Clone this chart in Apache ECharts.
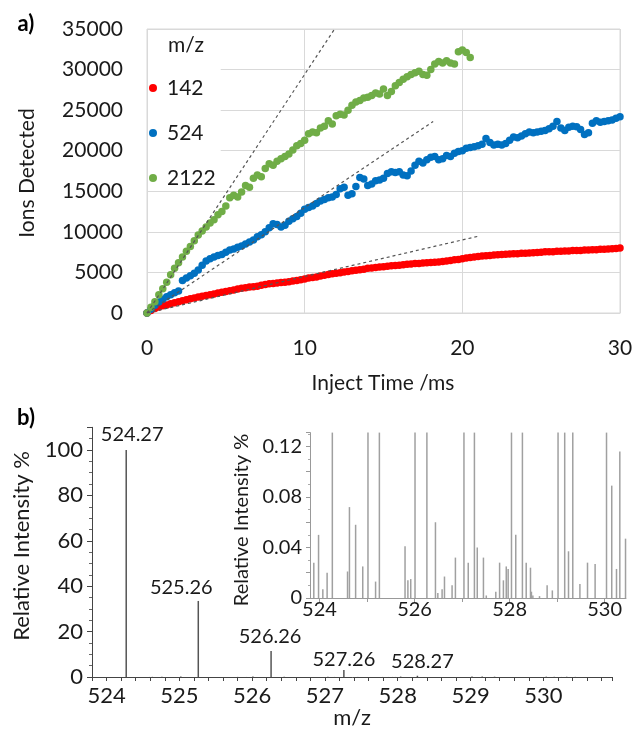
<!DOCTYPE html>
<html><head><meta charset="utf-8">
<script src="https://cdn.jsdelivr.net/npm/echarts@6/dist/echarts.min.js"></script>
<style>html,body{margin:0;padding:0;background:#fff}#c{width:636px;height:740px}</style>
</head><body><div id="c"></div>
<script>
// ---------- Panel a data ----------
const injectTimeMs = [
  0,0.25,0.5,0.75, 1,1.25,1.5,1.75, 2,2.25,2.5,2.75, 3,3.25,3.5,3.75,
  4,4.25,4.5,4.75, 5,5.25,5.5,5.75, 6,6.25,6.5,6.75, 7,7.25,7.5,7.75,
  8,8.25,8.5,8.75, 9,9.25,9.5,9.75, 10,10.25,10.5,10.75, 11,11.25,11.5,11.75,
  12,12.25,12.5,12.75, 13,13.25,13.5,13.75, 14,14.25,14.5,14.75, 15,15.25,15.5,15.75,
  16,16.25,16.5,16.75, 17,17.25,17.5,17.75, 18,18.25,18.5,18.75, 19,19.25,19.5,19.75,
  20,20.25,20.5,20.75, 21,21.25,21.5,21.75, 22,22.25,22.5,22.75, 23,23.25,23.5,23.75,
  24,24.25,24.5,24.75, 25,25.25,25.5,25.75, 26,26.25,26.5,26.75, 27,27.25,27.5,27.75,
  28,28.25,28.5,28.75, 29,29.25,29.5,29.75, 30
];
const ions142 = [
  0,300,550,750, 900,1000,1150,1260, 1400,1500,1640,1750, 1850,1960,2050,2150,
  2250,2340,2450,2560, 2650,2750,2840,2950, 3050,3100,3190,3250, 3300,3410,3500,3590,
  3650,3700,3760,3800, 3850,3950,4010,4100, 4200,4300,4390,4450, 4550,4660,4750,4840,
  4900,4960,5050,5100, 5200,5260,5340,5400, 5500,5540,5600,5660, 5700,5750,5810,5850,
  5900,5950,6000,6050, 6100,6110,6150,6200, 6210,6250,6300,6350, 6400,6460,6550,6600,
  6700,6790,6850,6900, 6950,7010,7050,7100, 7150,7190,7200,7250, 7260,7300,7310,7350,
  7350,7400,7410,7450, 7500,7540,7550,7560, 7600,7610,7650,7650, 7700,7710,7700,7750,
  7760,7800,7800,7850, 7860,7900,7910,7950, 8000
];
const ions524 = [
  0,450,950,1350, 1700,2000,2250,2500, 2700,4000,4300,4600, 4900,5300,5900,6400,
  6700,6900,7100,7200, 7500,7750,7900,8100, 8250,8500,8750,9000, 9400,9650,10000,10500,
  11000,10900,10600,10800, 11300,11600,11900,12300, 12800,13000,13200,13500, 13800,14000,14200,14300,
  14600,15300,15500,14500, 14700,15600,16700,16500, 15700,15900,16300,16400, 16600,17200,17400,17300,
  17400,17000,16900,17500, 18200,18700,18500,18900, 19200,19300,18900,19000, 19400,19300,19700,19900,
  20000,20300,20400,20500, 20600,20800,21500,21000, 20700,20800,20700,20900, 21300,21700,21600,21800,
  22100,22300,22200,22300, 22400,22500,22700,23000, 23600,22800,22500,22900, 23000,22950,22600,22000,
  22200,23400,23700,23500, 23600,23700,23800,24000, 24200
];
const ions2122 = [
  0,700,1400,2250, 3000,3800,4700,5500, 6200,6900,7600,8200, 8900,9600,10100,10600,
  11100,11500,12100,12500, 13200,14200,14500,14300, 14900,15700,15500,16600, 17000,16800,17800,18400,
  18200,18700,19000,19300, 19600,20100,20600,20900, 21300,22100,22300,22200, 22800,23000,23700,23300,
  24300,24500,24400,25000, 25600,26000,26200,26500, 26600,26800,27100,27000, 27600,26800,27300,28000,
  28400,28800,29100,29400, 29600,29800,29400,29300, 30000,30700,31000,30800, 31100,30800,30700,32200,
  32400,32100,31500
];
const trend142 = [[0,0],[21.1,9500]];
const trend524 = [[0,0],[18.15,23600]];
const trend2122 = [[0,0],[11.9,35000]];
const seriesNamesA = ['142','524','2122'];

// ---------- Panel b data ----------
const spectrumMz = [
  523.88,523.98,524.07,524.16,524.27,524.59,524.63,524.76,524.91,525.02,525.18,525.26,
  525.80,525.86,525.92,526.01,526.26,526.44,526.49,526.58,526.63,526.79,526.86,
  527.04,527.13,527.26,527.32,527.45,527.51,527.71,527.79,527.87,527.93,527.97,
  528.04,528.13,528.27,528.35,528.44,528.46,528.49,528.63,528.79,528.90,
  529.02,529.16,529.24,529.33,529.48,529.64,529.80,530.04,530.15,530.25,530.32,530.44
];
const spectrumIntensity = [
  0.028,0.050,0.007,0.020,100,0.021,0.072,0.058,0.025,0.21,0.013,33.5,
  0.041,0.014,0.015,0.18,11.5,0.060,0.004,0.007,0.017,0.010,0.032,
  0.16,0.028,3.1,0.040,0.032,0.002,0.005,0.028,0.014,0.025,0.023,
  0.19,0.050,0.55,0.028,0.024,0.005,0.002,0.0015,0.010,0.006,
  0.22,0.17,0.037,0.14,0.011,0.028,0.027,0.15,0.089,0.023,0.116,0.047
];
const labelledPeaks = ['524.27','525.26','526.26','527.26','528.27'];
const mainMzTicks = [524,525,526,527,528,529,530];
const mainIntensityTicks = [0,20,40,60,80,100];
const insetMzTicks = [524,526,528,530];
const insetMzTickMarks = [524,525,526,527,528,529,530];
const insetIntensityTicks = [0,0.04,0.08,0.12];

// ---------- build ----------
const FONT = 'Lato';
const TXT = '#1a1a1a';
const pts = (ys) => ys.map((v, i) => [injectTimeMs[i], v]);
const spectrum = spectrumMz.map((m, i) => [m, spectrumIntensity[i]]);
const labelOffsets = [[6,0],[-17,2],[-1,1],[0,5],[5,1]];
const peakLabelData = labelledPeaks.map((s, i) => {
  const m = parseFloat(s);
  const idx = spectrumMz.indexOf(m);
  return { value: [m, spectrumIntensity[idx]], name: s, label: { offset: labelOffsets[i] } };
});

const gridBorder = '#d9d9d9';
const chart = echarts.init(document.getElementById('c'), null, { renderer: 'canvas' });
chart.setOption({
  animation: false,
  textStyle: { fontFamily: FONT },
  grid: [
    { left: 147, right: 16, top: 29, height: 284, show: true, borderColor: gridBorder, borderWidth: 1, backgroundColor: 'transparent' },
    { left: 92, right: 23.5, top: 427.3, bottom: 63 },
    { left: 310, right: 10, top: 432.6, bottom: 142 }
  ],
  xAxis: [
    { gridIndex: 0, type: 'value', min: 0, max: 30, interval: 10,
      axisLine: { show: true, lineStyle: { color: gridBorder } }, axisTick: { show: false },
      splitLine: { show: true, lineStyle: { color: gridBorder, width: 1 } },
      axisLabel: { fontSize: 21, color: TXT, margin: 25, fontFamily: FONT } },
    { gridIndex: 1, type: 'value', min: 523.8, max: 530.95, interval: 0.2,
      axisLine: { show: true, onZero: false, lineStyle: { color: '#444', width: 1 } },
      axisTick: { show: true, length: 4, lineStyle: { color: '#444' } },
      splitLine: { show: false },
      axisLabel: { customValues: mainMzTicks, fontSize: 22, color: TXT, margin: 8, fontFamily: FONT } },
    { gridIndex: 2, type: 'value', min: 523.8, max: 530.45,
      axisLine: { show: true, onZero: false, lineStyle: { color: '#999', width: 1 } },
      axisTick: { show: true, customValues: insetMzTickMarks, length: 4, lineStyle: { color: '#999' } },
      splitLine: { show: false },
      axisLabel: { customValues: insetMzTicks, fontSize: 20, color: TXT, margin: 2, fontFamily: FONT } }
  ],
  yAxis: [
    { gridIndex: 0, type: 'value', min: 0, max: 35000, interval: 5000,
      axisLine: { show: false }, axisTick: { show: false },
      splitLine: { show: true, lineStyle: { color: gridBorder, width: 1 } },
      axisLabel: { fontSize: 21, color: TXT, margin: 24, fontFamily: FONT, formatter: v => String(v) } },
    { gridIndex: 1, type: 'value', min: 0, max: 110, interval: 20,
      axisLine: { show: true, lineStyle: { color: '#444', width: 1 } },
      axisTick: { show: true, length: 5, lineStyle: { color: '#444' } },
      minorTick: { show: true, splitNumber: 4, length: 3, lineStyle: { color: '#666' } },
      splitLine: { show: false },
      axisLabel: { customValues: mainIntensityTicks, fontSize: 22, color: TXT, margin: 9, fontFamily: FONT } },
    { gridIndex: 2, type: 'value', min: 0, max: 0.131, interval: 0.02,
      axisLine: { show: true, lineStyle: { color: '#999', width: 1 } },
      axisTick: { show: true, length: 4, lineStyle: { color: '#999' } },
      minorTick: { show: true, splitNumber: 2, length: 2, lineStyle: { color: '#aaa' } },
      splitLine: { show: false },
      axisLabel: { customValues: insetIntensityTicks, fontSize: 20, color: TXT, margin: 8, fontFamily: FONT } }
  ],
  legend: {
    data: seriesNamesA, orient: 'vertical', left: 148, top: 30,
    padding: [46, 5, 0, 1], itemGap: 21, itemWidth: 18, itemHeight: 8, icon: 'circle',
    backgroundColor: '#fff', selectedMode: false,
    textStyle: { fontSize: 21, color: TXT, lineHeight: 24, fontFamily: FONT }
  },
  graphic: [
    { type: 'text', x: 26, y: 24, z: 100, style: { text: 'a)', fontSize: 22, fontWeight: 'bold', fontFamily: FONT, fill: '#000', align: 'center', verticalAlign: 'middle' } },
    { type: 'text', x: 26, y: 418, z: 100, style: { text: 'b)', fontSize: 22, fontWeight: 'bold', fontFamily: FONT, fill: '#000', align: 'center', verticalAlign: 'middle' } },
    { type: 'text', x: 27, y: 173, rotation: Math.PI / 2, z: 100, style: { text: 'Ions Detected', fontSize: 21, fontFamily: FONT, fill: TXT, align: 'center', verticalAlign: 'middle' } },
    { type: 'text', x: 383, y: 383, z: 100, style: { text: 'Inject Time /ms', fontSize: 21, fontFamily: FONT, fill: TXT, align: 'center', verticalAlign: 'middle' } },
    { type: 'text', x: 186, y: 45, z: 100, style: { text: 'm/z', fontSize: 21, fontFamily: FONT, fill: TXT, align: 'center', verticalAlign: 'middle' } },
    { type: 'text', x: 22, y: 546, rotation: Math.PI / 2, z: 100, style: { text: 'Relative Intensity %', fontSize: 22, fontFamily: FONT, fill: TXT, align: 'center', verticalAlign: 'middle' } },
    { type: 'text', x: 242, y: 520, rotation: Math.PI / 2, z: 100, style: { text: 'Relative Intensity %', fontSize: 20, fontFamily: FONT, fill: TXT, align: 'center', verticalAlign: 'middle' } },
    { type: 'text', x: 352, y: 718, z: 100, style: { text: 'm/z', fontSize: 22, fontFamily: FONT, fill: TXT, align: 'center', verticalAlign: 'middle' } }
  ],
  series: [
    { name: '142', type: 'scatter', xAxisIndex: 0, yAxisIndex: 0, data: pts(ions142), symbolSize: 7.5, itemStyle: { color: '#ff0000', opacity: 1 } },
    { name: '524', type: 'scatter', xAxisIndex: 0, yAxisIndex: 0, data: pts(ions524), symbolSize: 7.5, itemStyle: { color: '#0070c0', opacity: 1 } },
    { name: '2122', type: 'scatter', xAxisIndex: 0, yAxisIndex: 0, data: pts(ions2122), symbolSize: 7.5, itemStyle: { color: '#70ad47', opacity: 1 } },
    ...[trend142, trend524, trend2122].map(d => ({
      type: 'line', xAxisIndex: 0, yAxisIndex: 0, data: d, symbol: 'none', z: 5, silent: true,
      lineStyle: { color: '#555', width: 1.2, type: [3, 3] }
    })),
    { type: 'bar', xAxisIndex: 1, yAxisIndex: 1, data: spectrum, barWidth: 1.5, itemStyle: { color: '#555' }, silent: true },
    { type: 'scatter', xAxisIndex: 1, yAxisIndex: 1, data: peakLabelData, symbolSize: 0, silent: true,
      itemStyle: { opacity: 1 },
      label: { show: true, position: 'top', distance: 5, formatter: p => p.name, fontSize: 20, color: TXT, opacity: 1, fontFamily: FONT } },
    { type: 'bar', xAxisIndex: 2, yAxisIndex: 2, data: spectrum, barWidth: 1.5, itemStyle: { color: '#a0a0a0' }, silent: true, clip: true }
  ]
});
</script></body></html>
